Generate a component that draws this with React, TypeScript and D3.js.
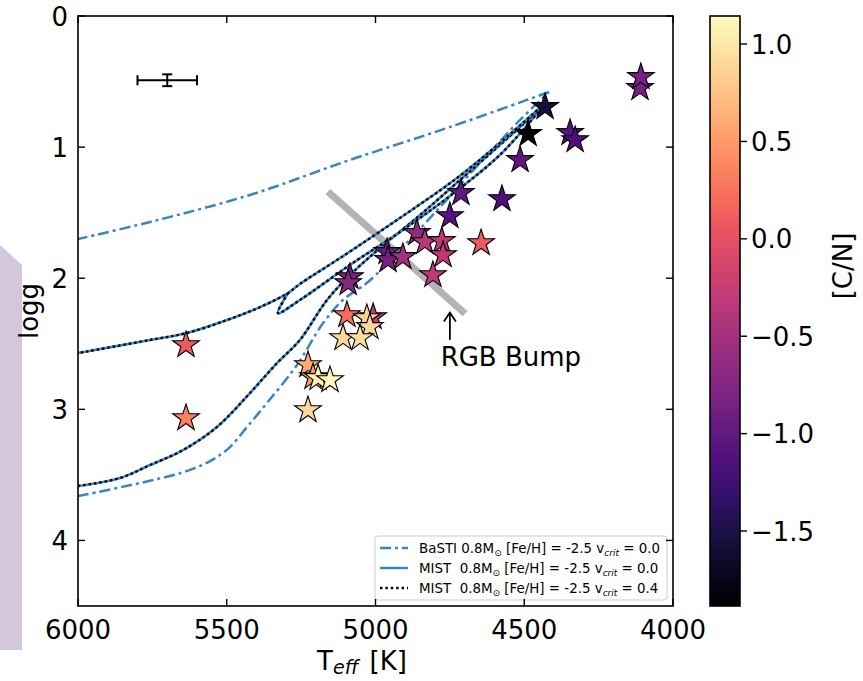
import React from 'react';
import * as d3 from 'd3';

// ---------- data ----------
const xTicks = [6000, 5500, 5000, 4500, 4000];
const yTicks = [0, 1, 2, 3, 4];
const cbTicks = [1.0, 0.5, 0.0, -0.5, -1.0, -1.5];

const starTeff = [4111, 4108, 4430, 4487, 4346, 4329, 4514, 4713, 4575, 4750, 4645, 4861, 4834, 4777, 4773, 4807,
  4961, 4958, 4908, 5086, 5092, 5008, 5096, 5029, 5019, 5109, 5052, 5227, 5210, 5193, 5153, 5227, 5637, 5637];
const starLogg = [0.549, 0.465, 0.694, 0.900, 0.892, 0.946, 1.098, 1.350, 1.396, 1.526, 1.732, 1.655, 1.724, 1.716, 1.823, 1.976,
  1.800, 1.861, 1.838, 1.991, 2.037, 2.296, 2.281, 2.304, 2.372, 2.456, 2.456, 2.662, 2.754, 2.761, 2.777, 3.006, 2.510, 3.067];
const starCN = [-0.85, -0.85, -1.55, -1.85, -1.1, -1.15, -1.0, -1.0, -1.15, -1.1, 0.1, -0.65, -0.35, -0.3, -0.32, -0.3,
  -0.95, -0.85, -0.5, -0.85, -0.7, -0.3, 0.2, 0.85, 0.9, 0.9, 0.95, 0.6, 0.5, 1.05, 1.1, 0.9, 0.1, 0.35];

// MIST 0.8 Msun [Fe/H]=-2.5 : subgiant + RGB
const mistRgbT = [6000, 5859, 5758, 5647, 5533, 5422, 5331, 5254, 5163, 5086, 4985, 4850, 4716, 4582, 4481, 4430];
const mistRgbG = [3.585, 3.524, 3.425, 3.311, 3.135, 2.876, 2.647, 2.471, 2.166, 1.976, 1.770, 1.518, 1.251, 0.984, 0.778, 0.664];
// MIST: tip -> HB
const mistHbT = [4430, 4582, 4726, 4918, 5119, 5254, 5294, 5388, 5499, 5634, 5758, 6000];
const mistHbG = [0.664, 0.969, 1.236, 1.541, 1.846, 2.044, 2.113, 2.220, 2.319, 2.418, 2.471, 2.571];
// MIST: HB hook + AGB
const mistAgbT = [5294, 5328, 5254, 5086, 4918, 4750, 4582, 4447];
const mistAgbG = [2.113, 2.266, 2.166, 1.899, 1.648, 1.373, 1.060, 0.717];

// BaSTI 0.8 Msun [Fe/H]=-2.5
const bastiRgbT = [6000, 5758, 5640, 5560, 5495, 5432, 5365, 5264, 5176, 5109, 5025, 4918, 4783, 4649, 4514, 4417];
const bastiRgbG = [3.662, 3.545, 3.475, 3.400, 3.300, 3.135, 2.952, 2.662, 2.342, 2.166, 2.029, 1.785, 1.457, 1.121, 0.793, 0.580];
const bastiUpT = [4417, 4750, 5086, 5422, 5758, 6000];
const bastiUpG = [0.580, 0.847, 1.098, 1.365, 1.571, 1.701];

// RGB bump marker line
const bumpT = [5160, 4699];
const bumpG = [1.34, 2.27];

// typical error bar
const errT = 5700, errTe = 100, errG = 0.49, errGe = 0.045;

const legendLabels = [
  { model: 'BaSTI', vcrit: '0.0' },
  { model: 'MIST ', vcrit: '0.0' },
  { model: 'MIST ', vcrit: '0.4' },
];

// ---------- layout ----------
const L = 78, R = 673, T = 16, B = 606;
const CBL = 710, CBR = 740;
const BLUE = '#3a84c4';
const FONT = 'DejaVu Sans, sans-serif';

const x = d3.scaleLinear().domain([6000, 4000]).range([L, R]);
const y = d3.scaleLinear().domain([0, 4.5]).range([T, B]);
const cmin = -1.885, cmax = 1.144;
const color = d3.scaleSequential(d3.interpolateMagma).domain([cmin, cmax]);
const cy = d3.scaleLinear().domain([cmin, cmax]).range([B, T]);

const zip = (a: number[], b: number[]) => a.map((v, i) => [v, b[i]] as [number, number]);
const line = d3.line<[number, number]>().x(d => x(d[0])).y(d => y(d[1])).curve(d3.curveCatmullRom.alpha(0.5));
const straight = d3.line<[number, number]>().x(d => x(d[0])).y(d => y(d[1]));

const starR = 14;
const starPath = d3.symbol().type(d3.symbolStar).size((starR * starR) / 0.8908130915292852)() as string;

function Track({ t, g }: { t: number[]; g: number[] }) {
  const d = line(zip(t, g)) as string;
  return (
    <g>
      <path d={d} fill="none" stroke={BLUE} strokeWidth={2.6} />
      <path d={d} fill="none" stroke="#000" strokeWidth={2.4} strokeDasharray="2.4,3" />
    </g>
  );
}

export default function App() {
  const fmt = (v: number) => (v < 0 ? '\u2212' : '') + Math.abs(v).toFixed(1);
  const stops = d3.range(0, 1.0001, 0.02);
  const ax = x(4750);
  return (
    <svg width={863} height={681} style={{ position: 'absolute', left: 0, top: 0, background: '#fff' }} fontFamily={FONT}>
      <defs>
        <clipPath id="plot"><rect x={L} y={T} width={R - L} height={B - T} /></clipPath>
        <linearGradient id="cb" x1="0" y1="1" x2="0" y2="0">
          {stops.map((s, i) => <stop key={i} offset={s} stopColor={d3.interpolateMagma(s)} />)}
        </linearGradient>
      </defs>
      {/* decorative strip on the left */}
      <polygon points="0,245 22,265 22,650 0,650" fill="#d3c7dc" />

      <g clipPath="url(#plot)">
        <path d={straight(zip(bumpT, bumpG)) as string} stroke="#b3b3b3" strokeWidth={7} fill="none" />
        <path d={line(zip(bastiRgbT, bastiRgbG)) as string} fill="none" stroke={BLUE} strokeWidth={2.5} strokeDasharray="11,4,3,4" />
        <path d={line(zip(bastiUpT, bastiUpG)) as string} fill="none" stroke={BLUE} strokeWidth={2.5} strokeDasharray="11,4,3,4" />
        <Track t={mistRgbT} g={mistRgbG} />
        <Track t={mistHbT} g={mistHbG} />
        <Track t={mistAgbT} g={mistAgbG} />
        {starTeff.map((tv, i) => (
          <path key={i} d={starPath} transform={`translate(${x(tv)},${y(starLogg[i])})`}
            fill={color(starCN[i])} stroke="#000" strokeWidth={1.1} strokeLinejoin="miter" />
        ))}
        {/* error bar */}
        <g stroke="#000" strokeWidth={2}>
          <line x1={x(errT - errTe)} x2={x(errT + errTe)} y1={y(errG)} y2={y(errG)} />
          <line x1={x(errT - errTe)} x2={x(errT - errTe)} y1={y(errG) - 5} y2={y(errG) + 5} />
          <line x1={x(errT + errTe)} x2={x(errT + errTe)} y1={y(errG) - 5} y2={y(errG) + 5} />
          <line x1={x(errT)} x2={x(errT)} y1={y(errG - errGe)} y2={y(errG + errGe)} />
          <line x1={x(errT) - 5} x2={x(errT) + 5} y1={y(errG - errGe)} y2={y(errG - errGe)} />
          <line x1={x(errT) - 5} x2={x(errT) + 5} y1={y(errG + errGe)} y2={y(errG + errGe)} />
        </g>
        {/* RGB bump annotation */}
        <g stroke="#000" strokeWidth={1.8} fill="none">
          <line x1={ax} x2={ax} y1={y(2.47)} y2={y(2.262)} />
          <polyline points={`${ax - 6},${y(2.262) + 9} ${ax},${y(2.262)} ${ax + 6},${y(2.262) + 9}`} />
        </g>
        <text x={x(4545)} y={y(2.67)} fontSize={26} textAnchor="middle">RGB Bump</text>
      </g>

      {/* legend */}
      <g>
        <rect x={375} y={536} width={292} height={64} rx={3} fill="#fff" fillOpacity={0.8} stroke="#cccccc" strokeWidth={1} />
        {legendLabels.map((lab, i) => {
          const cyy = 548 + i * 20;
          return (
            <g key={i}>
              {i === 0 && <line x1={380} x2={408} y1={cyy} y2={cyy} stroke={BLUE} strokeWidth={2.5} strokeDasharray="11,4,3,4" />}
              {i === 1 && <line x1={380} x2={408} y1={cyy} y2={cyy} stroke={BLUE} strokeWidth={2.5} />}
              {i === 2 && <line x1={380} x2={408} y1={cyy} y2={cyy} stroke="#000" strokeWidth={2.4} strokeDasharray="2.4,3" />}
              <text x={419} y={cyy + 5} fontSize={13.4} style={{ whiteSpace: 'pre' }}>
                {lab.model + ' 0.8M'}
                <tspan fontSize={9} dy={3}>{'\u2299'}</tspan>
                <tspan dy={-3}>{' [Fe/H] = -2.5 v'}</tspan>
                <tspan fontSize={9} dy={3} fontStyle="italic">crit</tspan>
                <tspan dy={-3}>{' = ' + lab.vcrit}</tspan>
              </text>
            </g>
          );
        })}
      </g>

      {/* frame */}
      <rect x={L} y={T} width={R - L} height={B - T} fill="none" stroke="#000" strokeWidth={1.6} />
      {xTicks.map(t => (
        <g key={t}>
          <line x1={x(t)} x2={x(t)} y1={B} y2={B - 7} stroke="#000" strokeWidth={1.4} />
          <line x1={x(t)} x2={x(t)} y1={T} y2={T + 7} stroke="#000" strokeWidth={1.4} />
          <text x={x(t)} y={639} fontSize={26} textAnchor="middle">{t}</text>
        </g>
      ))}
      {yTicks.map(t => (
        <g key={t}>
          <line x1={L} x2={L + 7} y1={y(t)} y2={y(t)} stroke="#000" strokeWidth={1.4} />
          <line x1={R} x2={R - 7} y1={y(t)} y2={y(t)} stroke="#000" strokeWidth={1.4} />
          <text x={68} y={y(t) + 9.5} fontSize={26} textAnchor="end">{t}</text>
        </g>
      ))}
      <text x={362} y={670} fontSize={26} textAnchor="middle" style={{ whiteSpace: 'pre' }}>
        T<tspan fontSize={19} dy={4} fontStyle="italic">eff</tspan><tspan dy={-4} dx={3}>{' [K]'}</tspan>
      </text>
      <text transform={`translate(38,${(T + B) / 2}) rotate(-90)`} fontSize={26} textAnchor="middle">logg</text>

      {/* colorbar */}
      <rect x={CBL} y={T} width={CBR - CBL} height={B - T} fill="url(#cb)" stroke="#000" strokeWidth={1.6} />
      {cbTicks.map(t => (
        <g key={t}>
          <line x1={CBR} x2={CBR + 7} y1={cy(t)} y2={cy(t)} stroke="#000" strokeWidth={1.4} />
          <text x={751} y={cy(t) + 9.5} fontSize={26}>{fmt(t)}</text>
        </g>
      ))}
      <text transform={`translate(852,266) rotate(-90)`} fontSize={26} textAnchor="middle">[C/N]</text>
    </svg>
  );
}
